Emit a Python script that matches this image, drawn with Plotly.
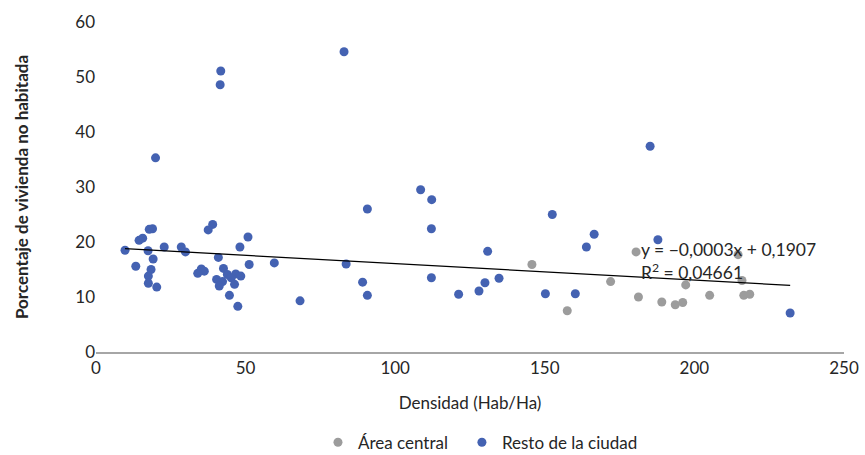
import plotly.graph_objects as go

# Densidad (Hab/Ha) y porcentaje de vivienda no habitada por zona
central_x = [145.7, 157.5, 172.0, 180.5, 181.3, 189.1, 193.6, 196.1, 197.1, 205.1,
             214.6, 215.9, 216.5, 218.5]
central_y = [15.9, 7.5, 12.8, 18.2, 10.0, 9.1, 8.6, 9.0, 12.2, 10.3,
             17.7, 13.0, 10.3, 10.5]

resto_x = [41.7, 41.5, 19.9, 39.0, 37.5, 18.9, 17.8, 15.6, 14.4, 50.8,
           9.7, 17.4, 22.8, 28.5, 29.9, 48.1, 19.1, 40.9, 13.3, 51.2,
           59.6, 18.4, 17.5, 17.5, 20.3, 35.2, 36.2, 34.0, 42.6, 43.9,
           46.7, 48.4, 45.2, 40.3, 42.3, 41.2, 46.3, 44.6, 47.4,
           82.9, 108.5, 112.2, 90.7, 152.5, 112.1, 130.9, 83.6, 112.1, 134.7,
           89.1, 130.0, 128.0, 90.7, 121.2, 150.2, 160.2, 68.2,
           185.2, 166.5, 163.9, 187.8, 232.0]
resto_y = [51.1, 48.6, 35.3, 23.2, 22.2, 22.4, 22.3, 20.7, 20.3, 20.9,
           18.5, 18.4, 19.1, 19.1, 18.2, 19.1, 16.9, 17.2, 15.6, 15.9,
           16.2, 15.0, 13.8, 12.5, 11.8, 15.1, 14.7, 14.3, 15.2, 14.1,
           14.2, 13.8, 13.5, 13.2, 12.8, 12.0, 12.3, 10.3, 8.3,
           54.6, 29.5, 27.7, 26.0, 25.0, 22.4, 18.3, 16.0, 13.5, 13.4,
           12.7, 12.6, 11.1, 10.3, 10.5, 10.6, 10.6, 9.3,
           37.4, 21.4, 19.1, 20.4, 7.1]

# Línea de tendencia lineal (en proporción): y = -0,0003x + 0,1907
trend_slope = -0.0003
trend_intercept = 0.1907
r_squared = "0,04661"

x_ticks = [0, 50, 100, 150, 200, 250]
y_ticks = [0, 10, 20, 30, 40, 50, 60]

FONT = "Lato, sans-serif"
TEXT = "#262626"
FS = 17

all_x = central_x + resto_x
tx = [min(all_x), max(all_x)]
ty = [100 * (trend_intercept + trend_slope * v) for v in tx]

fig = go.Figure()
fig.add_trace(go.Scatter(
    x=central_x, y=central_y, mode="markers", name="Área central",
    marker=dict(color="#9C9C9C", size=9), legend="legend",
))
fig.add_trace(go.Scatter(
    x=resto_x, y=resto_y, mode="markers", name="Resto de la ciudad",
    marker=dict(color="#4462B2", size=9), legend="legend2",
))
fig.add_trace(go.Scatter(
    x=tx, y=ty, mode="lines", showlegend=False, hoverinfo="skip",
    line=dict(color="#000000", width=1.2),
))

fig.add_annotation(
    x=181.5, y=18.6, xref="x", yref="y", xanchor="left", yanchor="middle",
    text="y = −0,0003x + 0,1907", showarrow=False,
    font=dict(family=FONT, size=17.5, color=TEXT),
)
fig.add_annotation(
    x=181.5, y=14.7, xref="x", yref="y", xanchor="left", yanchor="middle",
    text="R<sup>2</sup> = " + r_squared, showarrow=False,
    font=dict(family=FONT, size=17.5, color=TEXT),
)

legend_style = dict(orientation="h", xanchor="left", xref="container",
                    y=0.027, yanchor="middle", yref="container",
                    font=dict(family=FONT, size=FS, color=TEXT), itemwidth=30)

fig.update_layout(
    width=865, height=455,
    margin=dict(l=96, r=21, t=22, b=103, autoexpand=False),
    paper_bgcolor="white", plot_bgcolor="white",
    font=dict(family=FONT, size=FS, color=TEXT),
    showlegend=True,
    legend=dict(x=0.3676, **legend_style),
    legend2=dict(x=0.534, **legend_style),
    xaxis=dict(
        range=[0, 250], tickvals=x_ticks, showgrid=False, zeroline=False,
        showline=True, linecolor="#A6A6A6", linewidth=1.5, ticks="",
        title=dict(text="Densidad (Hab/Ha)", standoff=20,
                   font=dict(family=FONT, size=FS, color=TEXT)),
        tickfont=dict(family=FONT, size=FS, color=TEXT),
    ),
    yaxis=dict(
        range=[0, 60], tickvals=y_ticks, showgrid=False, zeroline=False,
        showline=False, ticks="",
        title=dict(text="<b>Porcentaje de vivienda no habitada</b>", standoff=42,
                   font=dict(family=FONT, size=FS, color=TEXT)),
        tickfont=dict(family=FONT, size=FS, color=TEXT),
    ),
)

fig.write_html("out.html")
